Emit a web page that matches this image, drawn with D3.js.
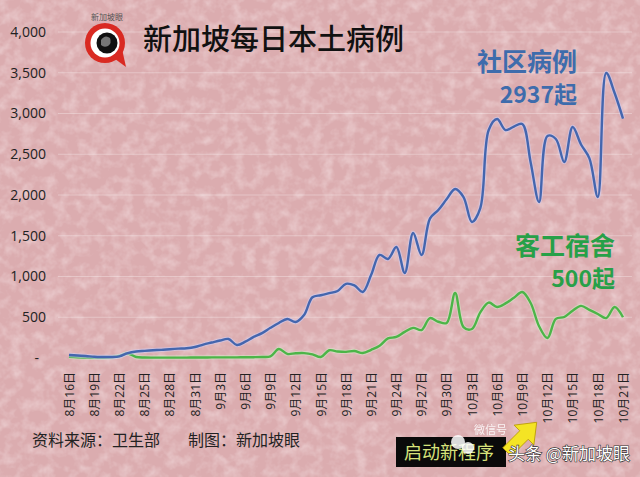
<!DOCTYPE html>
<html><head><meta charset="utf-8">
<script src="https://cdn.jsdelivr.net/npm/d3@7"></script>
<style>body{margin:0;background:#ddb0b2;overflow:hidden}</style>
</head><body>
<svg id="c" width="640" height="477"></svg>
<script>
// ---- data ----
const days = [
 "8月16日","8月17日","8月18日","8月19日","8月20日","8月21日","8月22日","8月23日","8月24日","8月25日","8月26日","8月27日","8月28日","8月29日","8月30日","8月31日",
 "9月1日","9月2日","9月3日","9月4日","9月5日","9月6日","9月7日","9月8日","9月9日","9月10日","9月11日","9月12日","9月13日","9月14日","9月15日",
 "9月16日","9月17日","9月18日","9月19日","9月20日","9月21日","9月22日","9月23日","9月24日","9月25日","9月26日","9月27日","9月28日","9月29日","9月30日",
 "10月1日","10月2日","10月3日","10月4日","10月5日","10月6日","10月7日","10月8日","10月9日","10月10日","10月11日","10月12日","10月13日","10月14日","10月15日",
 "10月16日","10月17日","10月18日","10月19日","10月20日","10月21日"];
const community = [37,30,25,15,12,12,20,60,80,88,95,100,108,115,120,135,
 165,190,215,233,160,200,260,305,370,430,479,442,527,745,770,
 795,822,910,890,810,1020,1264,1215,1362,1043,1534,1264,1710,1816,1950,
 2074,1975,1669,1840,2797,2932,2797,2840,2871,2400,1914,2724,2687,2405,2834,
 2620,2450,1975,3497,3252,2937];
const dormitory = [15,8,5,3,3,8,25,55,12,6,5,5,5,5,5,6,
 6,8,8,8,8,10,10,12,20,110,50,58,60,45,12,
 95,80,75,86,61,100,150,240,258,320,370,343,490,445,430,
 798,380,356,560,680,626,670,740,810,675,390,245,480,503,580,
 640,590,540,490,626,500];
const xTickLabels = ["8月16日","8月19日","8月22日","8月25日","8月28日","8月31日","9月3日","9月6日","9月9日","9月12日","9月15日","9月18日","9月21日","9月24日","9月27日","9月30日","10月3日","10月6日","10月9日","10月12日","10月15日","10月18日","10月21日"];
const yTicks = [0,500,1000,1500,2000,2500,3000,3500,4000];
const title = "新加坡每日本土病例";

// ---- drawing ----
const svg = d3.select("#c");
const defs = svg.append("defs");
const f = defs.append("filter").attr("id","noise").attr("x",0).attr("y",0).attr("width","100%").attr("height","100%");
f.append("feTurbulence").attr("type","fractalNoise").attr("baseFrequency","0.09").attr("numOctaves",3).attr("seed",11).attr("result","n");
f.append("feColorMatrix").attr("in","n").attr("type","matrix")
 .attr("values","0 0 0 0 1  0 0 0 0 0.93  0 0 0 0 0.94  1.5 0 0 0 -0.6");

svg.append("rect").attr("width",640).attr("height",477).attr("fill","#dbacaf");
svg.append("rect").attr("width",640).attr("height",477).attr("filter","url(#noise)").attr("opacity",0.5);

const x = d3.scalePoint().domain(days).range([69,623]);
const y = d3.scaleLinear().domain([0,4000]).range([358,32]);

// gridlines
svg.append("g").selectAll("line").data(yTicks.slice(1)).join("line")
 .attr("x1",58).attr("x2",632).attr("y1",d=>y(d)).attr("y2",d=>y(d))
 .attr("stroke","rgba(255,255,255,0.3)").attr("stroke-width",1);

// y axis
const ya = svg.append("g").attr("transform","translate(50,0)")
 .call(d3.axisLeft(y).tickValues(yTicks).tickSize(0).tickPadding(4)
   .tickFormat(d=> d===0 ? "-" : d3.format(",")(d)));
ya.select(".domain").remove();
ya.selectAll("text").attr("font-family","'Open Sans','Noto Sans',sans-serif").attr("font-size",14).attr("fill","#222")
 .attr("x",d=> d===0 ? -11 : -4);

// x axis
const xa = svg.append("g").attr("transform","translate(0,362)")
 .call(d3.axisBottom(x).tickValues(xTickLabels).tickSize(0));
xa.select(".domain").remove();
xa.selectAll("text").attr("transform","rotate(-90)").attr("x",-10).attr("y",0).attr("dy","0.35em")
 .attr("text-anchor","end").attr("font-family","'Open Sans','Noto Sans CJK SC',sans-serif").attr("font-size",12).attr("fill","#222");

// lines
const line = (arr)=> d3.line().x((d,i)=>x(days[i])).y(d=>y(d)).curve(d3.curveCatmullRom.alpha(0.5))(arr);
svg.append("path").attr("d",line(dormitory)).attr("fill","none").attr("stroke","rgba(210,235,200,0.5)").attr("stroke-width",4.5);
svg.append("path").attr("d",line(dormitory)).attr("fill","none").attr("stroke","#4cb548").attr("stroke-width",2.4);
svg.append("path").attr("d",line(community)).attr("fill","none").attr("stroke","rgba(205,205,245,0.55)").attr("stroke-width",4.5);
svg.append("path").attr("d",line(community)).attr("fill","none").attr("stroke","#4466ae").attr("stroke-width",2.4);

// title
svg.append("text").attr("x",143).attr("y",50).text(title)
 .attr("font-family","'Noto Sans CJK SC',sans-serif").attr("font-size",29).attr("font-weight",500).attr("fill","#111");

// logo
const lg = svg.append("g");
lg.append("path").attr("d","M111,56 L126,67 L122,49 Z").attr("fill","#d92a22");
lg.append("circle").attr("cx",105).attr("cy",43).attr("r",20).attr("fill","#d92a22");
lg.append("circle").attr("cx",105).attr("cy",43).attr("r",14.5).attr("fill","#fff");
lg.append("circle").attr("cx",107).attr("cy",43).attr("r",10.5).attr("fill","#111");
lg.append("path").attr("d","M101,40 q4,-6 9,-2 q2,5 -2,8 q-4,2 -7,-1 z").attr("fill","#ddd").attr("opacity",0.5);
lg.append("text").attr("x",107).attr("y",20).attr("text-anchor","middle").text("新加坡眼")
 .attr("font-family","'Noto Sans CJK SC',sans-serif").attr("font-size",8).attr("fill","#555");

// annotations
const ann = (t,xx,yy,fs,col)=> svg.append("text").attr("x",xx).attr("y",yy).attr("text-anchor","end").text(t)
 .attr("font-family","'Noto Sans CJK SC',sans-serif").attr("font-weight",700).attr("font-size",fs).attr("fill",col);
ann("社区病例",577,71,25,"#3e6cac");
ann("2937起",577,103,23,"#3e6cac");
ann("客工宿舍",615,255,25,"#27a048");
ann("500起",615,287,23,"#27a048");

// source
const src = (t,xx)=> svg.append("text").attr("x",xx).attr("y",446).text(t)
 .attr("font-family","'Noto Sans CJK SC',sans-serif").attr("font-size",16).attr("fill","#222");
src("资料来源：卫生部",32);
src("制图：新加坡眼",188);

// watermark overlays
svg.append("rect").attr("x",396).attr("y",437).attr("width",110).attr("height",30).attr("fill","#0a0a0a");
svg.append("text").attr("x",404).attr("y",459).text("启动新程序")
 .attr("font-family","'Noto Sans CJK SC',sans-serif").attr("font-size",18).attr("fill","#d6e27a");
svg.append("circle").attr("cx",458).attr("cy",442).attr("r",7).attr("fill","#fff").attr("opacity",0.85);
svg.append("circle").attr("cx",468).attr("cy",448).attr("r",6).attr("fill","#fff").attr("opacity",0.85);
svg.append("text").attr("x",474).attr("y",434).text("微信号")
 .attr("font-family","'Noto Sans CJK SC',sans-serif").attr("font-size",11).attr("fill","#fff").attr("opacity",0.85);
svg.append("path").attr("d","M0,-6 L24,-6 L24,-14 L42,0 L24,14 L24,6 L0,6 Z")
 .attr("transform","translate(507,452) rotate(-45)").attr("fill","#f4e424").attr("stroke","#b89a00").attr("stroke-width",0.8);
svg.append("text").attr("x",508).attr("y",460).text("头条 @新加坡眼")
 .attr("font-family","'Noto Sans CJK SC',sans-serif").attr("font-size",17).attr("fill","#fff")
 .attr("stroke","#333").attr("stroke-width",1.2).attr("paint-order","stroke");
</script>
</body></html>
